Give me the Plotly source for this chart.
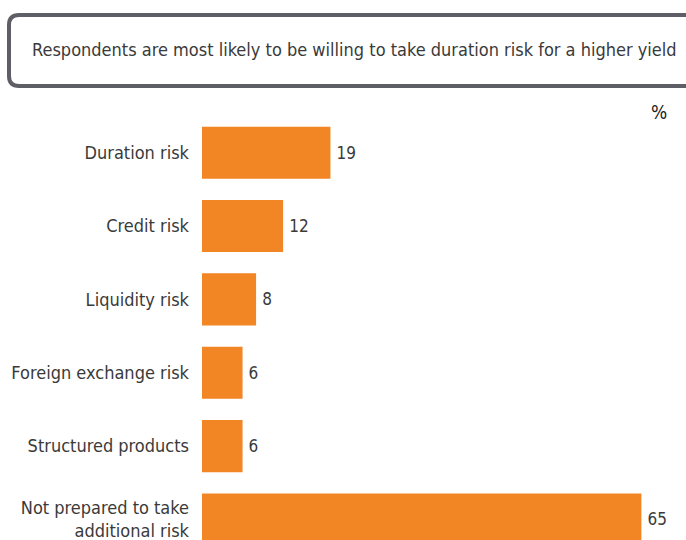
import plotly.graph_objects as go

# Survey responses: willingness to take extra risk for a higher yield (%)
categories = [
    "Duration risk",
    "Credit risk",
    "Liquidity risk",
    "Foreign exchange risk",
    "Structured products",
    "Not prepared to take<br>additional risk",
]
values = [19, 12, 8, 6, 6, 65]

title_text = "Respondents are most likely to be willing to take duration risk for a higher yield"
unit_text = "%"

FONT = "Liberation Sans Narrow, DejaVu Sans Condensed, Open Sans, sans-serif"
ORANGE = "#f28524"
TEXT = "#3a3a3a"

W, H = 686, 540
ML, MT = 202, 116
PW, PH = W - ML, H - MT


def px_x(p):
    return (p - ML) / PW


def px_y(p):
    return (H - p) / PH


fig = go.Figure(
    go.Bar(
        x=values,
        y=categories,
        orientation="h",
        marker=dict(color=ORANGE, line=dict(width=0)),
        width=0.71,
        text=[f"\u2009{v}" for v in values],
        textposition="outside",
        textfont=dict(family=FONT, size=17, color=TEXT),
        cliponaxis=False,
        hoverinfo="skip",
    )
)

# Rounded frame around the headline, open on the right side
xl, xr = px_x(9), px_x(700)
yt, yb = px_y(15), px_y(86)
rx, ry = 10 / PW, 10 / PH
frame = (
    f"M {xr},{yt} L {xl + rx},{yt} Q {xl},{yt} {xl},{yt - ry} "
    f"L {xl},{yb + ry} Q {xl},{yb} {xl + rx},{yb} L {xr},{yb}"
)
fig.add_shape(
    type="path", path=frame, xref="paper", yref="paper",
    line=dict(color="#5e5e66", width=4),
)

fig.add_annotation(
    text=title_text, x=px_x(30), y=px_y(49), xref="paper", yref="paper",
    xanchor="left", yanchor="middle", showarrow=False,
    font=dict(family=FONT, size=18, color=TEXT),
)
fig.add_annotation(
    text=unit_text, x=px_x(659), y=px_y(112), xref="paper", yref="paper",
    xanchor="center", yanchor="middle", showarrow=False,
    font=dict(family=FONT, size=19, color="#222222"),
)

fig.update_layout(
    width=W, height=H,
    margin=dict(l=ML, r=0, t=MT, b=0),
    paper_bgcolor="white", plot_bgcolor="white",
    showlegend=False,
    xaxis=dict(range=[0, PW / 6.76], visible=False, fixedrange=True),
    yaxis=dict(
        range=[5.28, -0.5], type="category",
        showgrid=False, zeroline=False, showline=False, ticks="",
        ticklabelstandoff=12,
        tickfont=dict(family=FONT, size=18, color=TEXT),
        fixedrange=True,
    ),
)

fig.write_html("out.html")
